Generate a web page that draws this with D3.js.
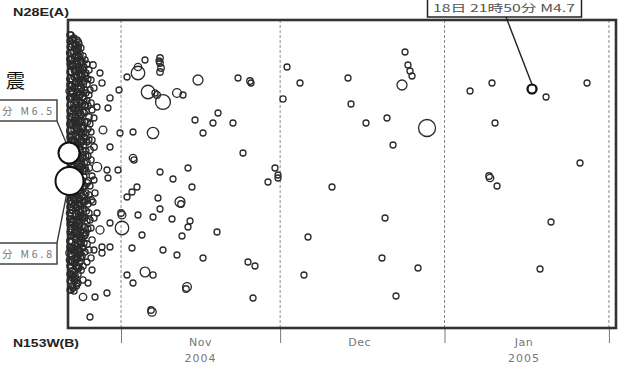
<!DOCTYPE html>
<html><head><meta charset="utf-8">
<script src="https://cdn.jsdelivr.net/npm/d3@7"></script>
<style>body{margin:0;background:#fff}svg{display:block}</style>
</head><body><svg id="c" width="627" height="365"></svg>
<script>
// ---- data ----
const seriesStart = new Date(2004, 9, 22, 0, 0);   // day 0 of the day offsets below
const seriesEnd = new Date(2005, 1, 2, 8, 0);
const monthLabels = ["Nov", "Dec", "Jan"];
const yearLabels = ["2004", "", "2005"];
const endLabelA = "N28E(A)";
const endLabelB = "N153W(B)";
const quakeTitle = "震";

// dense aftershock band, late October (days since Oct 22, km from A, magnitude)
const bandDay = [
 0.38,0.38,0.38,0.38,0.38,0.38,0.38,0.38,0.38,0.38,0.38,0.38,0.38,0.38,0.38,
 0.57,0.57,0.57,0.57,0.57,0.57,0.57,
 0.75,0.75,0.75,0.75,0.75,0.75,0.75,0.75,0.75,0.75,0.75,0.75,0.75,0.75,0.75,0.75,0.75,0.75,0.75,
 0.94,0.94,0.94,0.94,0.94,0.94,0.94,0.94,0.94,
 1.13,1.13,1.13,1.13,1.13,1.13,1.13,1.13,1.13,1.13,1.13,1.13,1.13,1.13,1.13,1.13,1.13,1.13,1.13,1.13,
 1.32,1.32,1.32,1.32,1.32,1.32,1.32,1.32,1.32,
 1.51,1.51,1.51,1.51,1.51,1.51,1.51,1.51,1.51,1.51,1.51,1.51,1.51,1.51,1.51,1.51,1.51,1.51,1.51,
 1.70,1.70,1.70,1.70,1.70,1.70,1.70,1.70,
 1.89,1.89,1.89,1.89,1.89,1.89,1.89,1.89,1.89,1.89,1.89,1.89,1.89,1.89,1.89,1.89,1.89,1.89,
 2.07,2.07,2.07,2.07,2.07,2.07,2.07,2.07,
 2.26,2.26,2.26,2.26,2.26,2.26,2.26,2.26,2.26,2.26,2.26,2.26,2.26,2.26,2.26,2.26,2.26,
 2.45,2.45,2.45,2.45,2.45,2.45,2.45,
 2.64,2.64,2.64,2.64,2.64,2.64,2.64,2.64,2.64,2.64,2.64,2.64,2.64,2.64,
 3.02,3.02,3.02,3.02,3.02,3.02,3.02,3.02,3.02,3.02,3.02,3.02,
 3.39,3.39,3.39,3.39,3.39,3.39,3.39,3.39,3.39,
 3.77,3.77,3.77,3.77,3.77,3.77,3.77,
 4.15,4.15,4.15,4.15,4.15,
 4.53,4.53,4.53,4.53
];
const bandKm = [
 2.1,3.3,4.4,5.9,7.1,8.5,9.7,11.1,18.1,19.3,20.4,22.1,23.3,24.6,26.1,
 2.7,5.2,7.8,10.2,19.0,21.6,24.2,
 2.4,3.9,5.1,6.6,7.7,9.2,10.5,11.6,13.1,14.4,15.5,17.0,18.3,19.4,20.9,22.2,23.6,25.1,26.6,
 3.2,6.0,8.8,12.0,14.8,17.8,20.2,22.8,25.5,
 1.8,3.1,4.2,5.7,6.8,8.3,9.4,10.9,12.2,13.3,14.6,16.1,17.4,18.5,20.0,21.3,22.6,23.9,25.3,27.1,
 3.8,6.4,9.0,11.6,14.0,16.5,19.4,21.8,24.3,
 2.5,3.6,5.1,6.2,7.7,8.8,10.1,11.6,12.7,14.2,15.3,16.8,17.9,19.4,20.5,22.0,23.1,24.6,25.9,
 4.4,7.2,9.8,12.4,15.0,17.6,20.0,22.6,
 2.9,4.1,5.6,6.7,8.2,9.3,10.8,11.9,13.4,14.5,16.0,17.1,18.6,19.7,21.2,22.3,23.8,25.4,
 5.0,7.6,10.4,13.0,15.6,18.4,20.8,23.4,
 3.4,4.9,6.0,7.5,8.6,10.1,11.2,12.7,13.8,15.3,16.4,17.9,19.0,20.5,21.6,23.1,24.2,
 6.8,9.6,12.2,14.8,17.2,19.8,22.4,
 4.1,5.6,7.1,8.4,10.1,11.4,13.1,14.4,16.1,17.6,18.9,20.6,21.9,23.6,
 4.7,6.1,7.9,9.3,11.1,12.5,14.3,15.7,17.5,18.9,20.7,22.3,
 5.3,7.3,9.1,11.3,13.1,15.1,17.3,19.1,21.3,
 5.9,8.6,10.9,13.6,16.1,18.4,20.9,
 7.0,10.4,13.0,16.6,20.0,
 9.0,12.0,15.6,22.0
];
const bandMag = [
 3.6,4.1,3.5,3.9,4.4,3.7,3.5,4.0,3.8,4.2,3.6,3.9,4.5,3.7,3.5,
 3.5,3.8,4.0,3.6,3.9,3.5,3.7,
 4.0,3.6,4.3,3.8,3.5,4.6,3.9,3.7,4.1,3.5,4.4,3.8,3.6,4.2,3.9,4.0,3.5,3.8,3.6,
 3.7,4.2,3.6,3.9,4.0,3.5,4.3,3.8,3.6,
 3.5,3.9,4.2,3.6,4.0,3.8,4.5,3.7,3.5,4.1,3.9,3.6,4.3,3.8,4.0,3.5,4.2,3.7,3.9,3.6,
 4.1,3.6,3.9,4.4,3.7,4.0,3.5,3.8,4.2,
 3.8,3.5,4.1,3.9,3.6,4.3,3.7,4.0,3.5,4.2,3.8,3.6,4.4,3.9,3.7,4.0,3.5,3.8,3.6,
 3.6,4.0,3.8,3.5,4.2,3.7,3.9,3.6,
 3.9,3.6,4.2,3.7,4.5,3.5,3.8,4.0,3.6,4.1,3.9,3.7,4.3,3.5,3.8,4.0,3.6,3.7,
 3.5,3.9,3.7,4.1,3.6,3.8,4.0,3.5,
 3.7,4.0,3.5,3.9,3.6,4.2,3.8,3.5,4.0,3.7,4.4,3.6,3.9,3.5,4.1,3.8,3.6,
 3.8,3.5,4.0,3.6,3.9,3.7,3.5,
 3.6,3.9,3.5,4.1,3.7,3.8,4.3,3.5,3.9,3.6,4.0,3.7,3.5,3.8,
 3.5,3.8,3.6,4.0,3.7,3.5,3.9,3.6,4.2,3.5,3.8,3.6,
 3.6,3.5,3.9,3.7,3.5,3.8,3.6,4.0,3.5,
 3.5,3.7,3.6,3.5,3.9,3.6,3.5,
 3.6,3.5,3.8,3.5,3.6,
 3.5,3.6,3.5,3.7
];
// more events in the same band
const band2Day = [
 0.57,0.57,0.57,0.57,0.57,0.57,0.57,0.57,0.57,0.57,0.57,
 0.94,0.94,0.94,0.94,0.94,0.94,0.94,0.94,0.94,0.94,
 1.32,1.32,1.32,1.32,1.32,1.32,1.32,1.32,1.32,1.32,
 1.70,1.70,1.70,1.70,1.70,1.70,1.70,1.70,1.70,1.70,1.70,
 2.07,2.07,2.07,2.07,2.07,2.07,2.07,2.07,2.07,2.07,
 2.45,2.45,2.45,2.45,2.45,2.45,2.45,2.45,2.45,2.45,2.45,
 2.83,2.83,2.83,2.83,2.83,2.83,2.83,2.83,2.83,2.83,2.83,2.83,2.83,2.83,2.83,2.83,
 3.21,3.21,3.21,3.21,3.21,3.21,3.21,3.21,3.21,3.21,3.21,3.21,3.21,
 3.58,3.58,3.58,3.58,3.58,3.58,3.58,3.58,3.58,3.58,3.58,
 3.96,3.96,3.96,3.96,3.96,3.96,3.96,3.96,
 4.34,4.34,4.34,4.34,4.34,4.34,4.34,
 4.90,4.90,4.90,4.90,4.90,4.90
];
const band2Km = [
 1.5,4.0,6.5,9.0,11.5,14.0,16.5,20.2,22.8,25.4,27.0,
 2.0,4.6,7.4,10.4,13.4,16.3,19.0,21.5,24.2,26.8,
 2.5,5.1,7.7,10.3,12.8,15.2,17.8,20.6,23.0,25.6,
 2.0,3.2,5.8,8.5,11.1,13.7,16.3,18.8,21.3,23.9,26.4,
 2.4,3.7,6.3,9.0,11.7,14.3,17.0,19.6,22.1,24.7,
 2.8,4.2,5.5,8.2,10.9,13.5,16.0,18.5,21.1,23.7,25.0,
 3.6,5.0,6.4,7.7,9.2,10.6,12.1,13.6,15.1,16.7,18.2,19.7,21.3,22.8,24.6,26.0,
 4.0,5.6,7.0,8.6,10.2,11.8,13.5,14.8,16.6,18.1,19.8,21.5,23.2,
 4.4,6.4,8.1,10.2,12.2,14.2,16.3,18.0,20.1,22.4,24.2,
 5.0,7.5,9.7,12.0,14.8,17.5,19.3,23.0,
 6.0,8.3,11.2,14.0,18.0,20.8,23.8,
 6.8,9.8,12.7,16.0,19.8,23.0
];
const band2Mag = [
 3.6,3.9,3.5,4.2,3.7,4.0,3.6,3.8,4.1,3.5,3.7,
 3.8,3.5,4.0,3.7,4.3,3.6,3.9,3.5,4.1,3.6,
 3.5,4.0,3.8,3.6,4.2,3.9,3.7,3.5,4.0,3.8,
 3.7,3.5,4.1,3.8,3.6,4.4,3.9,3.5,4.0,3.7,3.6,
 3.6,4.0,3.7,3.9,3.5,4.2,3.8,3.6,4.1,3.5,
 3.5,3.8,4.0,3.6,4.3,3.7,3.9,3.5,4.1,3.6,3.8,
 3.7,3.5,4.0,3.8,3.6,4.2,3.5,3.9,3.7,4.1,3.6,3.8,4.0,3.5,3.7,3.6,
 3.6,3.9,3.5,4.0,3.7,3.5,4.2,3.8,3.6,3.9,3.5,3.7,3.6,
 3.5,3.8,3.6,4.0,3.5,3.7,3.9,3.5,3.6,3.8,3.5,
 3.6,3.5,3.8,3.5,4.0,3.6,3.5,3.7,
 3.5,3.7,3.5,3.6,3.9,3.5,3.6,
 3.6,3.5,3.8,3.5,3.6,3.5
];
// first days, core of the band
const band3Day = [
 0.38,0.38,0.38,0.38,0.38,0.38,0.38,0.38,0.38,0.38,0.38,0.38,0.38,0.38,0.38,0.38,
 0.85,0.85,0.85,0.85,0.85,0.85,0.85,0.85,0.85,0.85,
 1.23,1.23,1.23,1.23,1.23,1.23,1.23,1.23,1.23,1.23,
 1.60,1.60,1.60,1.60,1.60,1.60,1.60,1.60,1.60,1.60,
 1.98,1.98,1.98,1.98,1.98,1.98,1.98,1.98,1.98,1.98,
 2.36,2.36,2.36,2.36,2.36,2.36,2.36,2.36,2.36,
 2.73,2.73,2.73,2.73,2.73,2.73,2.73,
 3.11,3.11,3.11,3.11,3.11,3.11
];
const band3Km = [
 1.5,2.7,3.9,5.2,6.5,7.8,9.1,10.4,11.7,18.7,19.9,21.2,22.7,24.0,25.4,27.0,
 1.9,4.5,7.2,9.8,12.4,15.0,17.6,20.2,23.0,25.8,
 2.4,5.0,7.6,10.1,12.7,15.3,18.0,20.6,23.3,26.1,
 3.0,5.6,8.2,10.8,13.5,16.1,18.7,21.2,23.8,26.6,
 2.2,4.8,7.5,10.1,12.7,15.2,17.8,20.4,23.0,24.8,
 4.2,6.8,9.4,12.0,14.6,17.0,19.6,22.2,23.8,
 4.8,7.7,10.8,13.8,16.8,19.8,22.7,
 5.4,8.5,11.7,15.0,18.2,21.6
];
const band3Mag = [
 3.7,3.5,4.0,3.6,3.8,4.1,3.5,3.9,3.6,3.7,4.0,3.5,3.8,4.2,3.6,3.5,
 3.9,3.6,3.8,4.1,3.5,3.7,4.0,3.6,3.8,3.5,
 3.6,4.0,3.5,3.8,3.9,3.6,4.2,3.7,3.5,3.8,
 4.0,3.7,3.6,3.9,3.5,4.1,3.6,3.8,3.7,3.5,
 3.5,3.8,4.0,3.6,3.7,3.9,3.5,4.1,3.6,3.8,
 3.7,3.5,3.9,3.6,4.0,3.8,3.5,3.7,3.6,
 3.6,3.8,3.5,3.9,3.7,3.6,3.5,
 3.5,3.7,3.6,3.8,3.5,3.6
];

// scattered events, late October to February
const eventDay = [
 1.89,1.89,4.71,6.03,6.41,7.92,7.54,5.47,6.60,7.92,5.47,7.35,7.54,5.09,4.71,5.47,6.03,7.92,6.41,7.92,6.41,9.43,9.81,9.62,7.35,5.09,2.83,1.89,3.77,4.15,1.70,4.53,
 13.20,13.20,14.52,11.13,17.35,17.35,17.54,17.35,17.16,15.09,17.91,20.55,21.69,16.78,16.41,23.95,24.51,16.03,12.26,12.26,12.45,17.35,22.63,19.80,23.38,13.01,11.13,12.07,16.97,21.12,21.31,17.35,16.03,19.61,23.01,22.63,21.50,28.10,10.18,10.00,10.18,13.20,13.95,12.07,17.91,20.55,25.46,11.13,14.52,16.03,12.26,22.44,22.25,15.84,15.65,
 32.06,34.32,34.51,28.29,27.34,31.11,25.46,33.00,39.03,39.60,39.60,37.71,33.94,35.26,34.89,
 41.30,43.75,40.54,52.80,53.37,56.19,60.15,61.29,63.55,64.11,64.49,64.87,62.98,67.70,49.78,59.78,45.26,59.21,44.50,61.85,66.00,
 75.81,79.95,87.50,90.14,97.87,80.52,96.55,79.58,79.39,80.90,91.08,89.01
];
const eventKm = [
 2.7,3.5,4.5,5.3,6.3,7.8,8.8,8.7,11.0,12.7,14.7,15.0,15.8,17.3,18.2,19.3,21.0,20.3,22.7,22.7,23.3,15.0,11.3,7.0,27.3,27.7,27.7,26.3,26.3,29.7,24.7,25.0,
 4.7,5.3,4.0,5.7,3.8,4.3,4.8,5.2,4.1,7.2,8.2,7.3,7.5,7.5,7.3,10.0,6.0,11.3,11.2,13.8,14.0,15.2,14.8,15.9,16.7,16.7,17.7,17.2,17.8,18.2,18.4,18.9,19.7,19.9,20.1,20.7,21.6,21.2,19.5,19.3,20.8,19.5,21.5,22.8,23.0,23.5,23.8,25.5,25.2,25.5,26.3,26.7,26.9,29.2,29.0,
 5.8,6.1,6.3,9.3,10.3,10.3,11.3,13.3,14.8,15.5,15.8,16.2,24.2,24.6,27.8,
 4.7,6.3,7.9,5.8,8.4,10.3,9.8,12.5,3.2,4.5,5.1,5.6,6.5,10.8,16.7,19.8,21.7,23.8,25.5,27.6,24.8,
 7.1,6.3,6.9,7.7,6.3,10.3,14.3,15.8,15.6,16.6,20.2,24.9
];
const eventMag = [
 3.5,3.5,3.8,3.5,3.6,3.6,3.5,3.5,4.3,3.5,4.8,3.5,3.5,3.6,3.5,3.5,4.4,3.5,3.5,3.5,3.6,3.5,3.5,3.5,3.5,3.5,4.2,3.5,3.5,3.5,3.6,3.5,
 4.2,5.5,3.5,3.5,3.8,3.8,3.8,3.8,3.5,5.5,5.7,4.6,3.5,4.0,3.6,3.5,5.0,5.2,3.5,4.2,3.6,3.5,3.5,3.5,3.5,3.5,3.5,3.5,3.5,5.0,3.8,3.5,3.5,3.5,3.5,3.5,3.5,3.5,4.3,3.8,5.5,3.5,3.5,3.5,3.5,3.5,3.5,3.5,4.9,3.6,3.5,4.6,3.8,4.5,3.8,
 3.5,3.8,3.5,3.5,3.5,3.5,3.5,3.5,3.5,3.5,3.5,3.5,3.5,3.5,3.5,
 3.5,3.5,3.6,3.5,3.5,3.5,3.5,3.5,3.5,3.5,3.5,3.5,5.0,6.0,3.5,3.5,3.5,3.5,3.5,3.5,3.5,
 3.5,3.5,4.7,3.5,3.5,3.5,3.5,4.2,3.8,3.5,3.5,3.5
];

// labelled main shocks
const mainDay = [0.19, 0.28];
const mainKm = [13.3, 16.1];
const mainMag = [6.5, 6.8];
const mainLabels = ["分 M6.5", "分 M6.8"];
const calloutDay = 87.50, calloutKm = 6.9, calloutMag = 4.7;
const calloutLabel = "18日 21時50分 M4.7";

// ---- scales ----
const svg = d3.select("#c");
const toDate = d => new Date(seriesStart.getTime() + d * 864e5);
const x = d3.scaleTime().domain([seriesStart, seriesEnd]).range([68, 616]);
const y = d3.scaleLinear().domain([0, 30.8]).range([20, 328]);
const r = d3.scaleLinear().domain([3, 4, 5, 6, 6.5, 6.8]).range([2.6, 3.4, 5, 8.5, 10.5, 14]).clamp(true);

const months = d3.timeMonth.range(new Date(2004, 10, 1), seriesEnd);

// month grid
svg.append("g").selectAll("line").data(months).join("line")
  .attr("x1", d => x(d)).attr("x2", d => x(d))
  .attr("y1", y(0)).attr("y2", y(30.8))
  .attr("stroke", "#8a8a8a").attr("stroke-width", 1).attr("stroke-dasharray", "3,2");

// ticks below frame
const axis = d3.axisBottom(x).tickValues(months).tickSize(15).tickFormat("");
const ag = svg.append("g").attr("transform", `translate(0,${y(30.8)})`).call(axis);
ag.select(".domain").remove();
ag.selectAll(".tick line").attr("stroke", "#777");

// month/year labels
const mids = months.slice(0, 3).map(m => d3.timeDay.offset(m, 15.5));
svg.append("g").selectAll("text").data(mids).join("text")
  .attr("x", d => x(d)).attr("y", 346).attr("text-anchor", "middle")
  .attr("font-family", "DejaVu Sans, sans-serif").attr("font-size", 11).attr("fill", "#777")
  .attr("letter-spacing", 0.5).text((d, i) => monthLabels[i]);
svg.append("g").selectAll("text").data(mids).join("text")
  .attr("x", d => x(d)).attr("y", 362).attr("text-anchor", "middle")
  .attr("font-family", "DejaVu Sans, sans-serif").attr("font-size", 11).attr("fill", "#777")
  .attr("letter-spacing", 1).text((d, i) => yearLabels[i]);

// frame
svg.append("rect").attr("x", x(seriesStart)).attr("y", y(0))
  .attr("width", x(seriesEnd) - x(seriesStart)).attr("height", y(30.8) - y(0))
  .attr("fill", "none").attr("stroke", "#333").attr("stroke-width", 2.6);

// end labels
svg.append("text").attr("x", 13).attr("y", 16).attr("font-family", "Liberation Sans, Arial, sans-serif")
  .attr("font-weight", "bold").attr("font-size", 10).attr("fill", "#222")
  .attr("textLength", 56).attr("lengthAdjust", "spacingAndGlyphs").text(endLabelA);
svg.append("text").attr("x", 13).attr("y", 347).attr("font-family", "Liberation Sans, Arial, sans-serif")
  .attr("font-weight", "bold").attr("font-size", 10).attr("fill", "#222")
  .attr("textLength", 66).attr("lengthAdjust", "spacingAndGlyphs").text(endLabelB);

// events
const pts = [];
bandDay.forEach((d, i) => pts.push({d, k: bandKm[i], m: bandMag[i]}));
band2Day.forEach((d, i) => pts.push({d, k: band2Km[i], m: band2Mag[i]}));
band3Day.forEach((d, i) => pts.push({d, k: band3Km[i], m: band3Mag[i]}));
eventDay.forEach((d, i) => pts.push({d, k: eventKm[i], m: eventMag[i]}));
svg.append("g").selectAll("circle").data(pts).join("circle")
  .attr("cx", p => x(toDate(p.d))).attr("cy", p => y(p.k)).attr("r", p => r(p.m))
  .attr("fill", "none").attr("stroke", "#2a2a2a").attr("stroke-width", 1.3);

// callout event (bold)
const cx0 = x(toDate(calloutDay)), cy0 = y(calloutKm);
svg.append("circle").attr("cx", cx0).attr("cy", cy0).attr("r", r(calloutMag))
  .attr("fill", "none").attr("stroke", "#111").attr("stroke-width", 2.2);
svg.append("line").attr("x1", 506).attr("y1", 17).attr("x2", cx0).attr("y2", cy0 - r(calloutMag))
  .attr("stroke", "#222").attr("stroke-width", 1.4);
svg.append("rect").attr("x", 427.5).attr("y", -2).attr("width", 154).attr("height", 19)
  .attr("fill", "#fff").attr("stroke", "#222").attr("stroke-width", 1.5);
svg.append("text").attr("x", 504).attr("y", 12).attr("text-anchor", "middle")
  .attr("font-family", "Noto Sans CJK JP, sans-serif").attr("font-size", 10.5).attr("fill", "#555")
  .attr("textLength", 142).attr("lengthAdjust", "spacingAndGlyphs").text(calloutLabel);

// main shocks (white filled)
const boxY = [100, 243];
mainDay.forEach((d, i) => {
  const mx = x(toDate(d)), my = y(mainKm[i]), mr = r(mainMag[i]);
  const by = i === 0 ? boxY[i] + 21 : boxY[i];
  svg.append("line").attr("x1", 57).attr("y1", by)
    .attr("x2", mx - 3).attr("y2", i === 0 ? my - mr : my + mr)
    .attr("stroke", "#333").attr("stroke-width", 1.3);
  svg.append("rect").attr("x", -20).attr("y", boxY[i]).attr("width", 77).attr("height", 21)
    .attr("fill", "#fff").attr("stroke", "#444").attr("stroke-width", 1.5);
  svg.append("text").attr("x", 2).attr("y", boxY[i] + 15)
    .attr("font-family", "Noto Sans CJK JP, sans-serif").attr("font-size", 10.5).attr("fill", "#777")
    .attr("textLength", 50).attr("lengthAdjust", "spacing").text(mainLabels[i]);
});
svg.append("g").selectAll("circle").data(mainDay).join("circle")
  .attr("cx", d => x(toDate(d))).attr("cy", (d, i) => y(mainKm[i])).attr("r", (d, i) => r(mainMag[i]))
  .attr("fill", "#fff").attr("stroke", "#111").attr("stroke-width", 2);

svg.append("text").attr("x", 6).attr("y", 88)
  .attr("font-family", "Noto Sans CJK JP, sans-serif").attr("font-size", 19).attr("fill", "#111")
  .text(quakeTitle);
</script></body></html>
